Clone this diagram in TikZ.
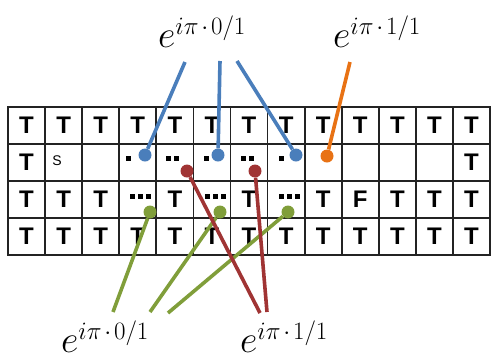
\RequirePackage{fix-cm}
\documentclass[tikz,border=0pt]{standalone}
\usepackage{fontspec}
\newfontfamily\cellfont{Liberation Sans}
\usetikzlibrary{positioning}
\definecolor{gridline}{RGB}{35,35,35}
\definecolor{phaseblue}{RGB}{74,126,187}
\definecolor{phaseorange}{RGB}{232,114,20}
\definecolor{phasered}{RGB}{160,52,52}
\definecolor{phasegreen}{RGB}{128,158,58}
\newcommand{\phaselbl}[1]{$e$\raisebox{13pt}{\fontsize{25}{27}\selectfont$i\pi\mkern2mu{\cdot}\mkern2mu#1/1$}}

\begin{document}
\begin{tikzpicture}[
  x=1pt, y=-1pt,
  cell/.style={draw=gridline, line width=1.8pt, minimum width=37.08pt, minimum height=37pt, inner sep=0pt, font=\cellfont\bfseries\fontsize{24}{24}\selectfont},
  tiny/.style={inner sep=0pt, font=\cellfont\fontsize{14}{14}\selectfont},
  visit/.style={fill=black, minimum size=5pt, inner sep=0pt},
  dot/.style={circle, minimum size=13pt, inner sep=0pt},
  phase/.style={anchor=base west, inner sep=0pt, font=\fontsize{38}{42}\selectfont},
  link/.style={line width=3.6pt}
]
\useasboundingbox (0,0) rectangle (491,360);

% the board
\foreach \row/\cells in {0/{T,T,T,T,T,T,T,T,T,T,T,T,T},
                         1/{T,,,,,,,,,,,,T},
                         2/{T,T,T,,T,,T,,T,F,T,T,T},
                         3/{T,T,T,T,T,T,T,T,T,T,T,T,T}}
  \foreach \txt [count=\col from 0] in \cells
    \node[cell] (c\row-\col) at ({8+37.08*(\col+0.5)}, {107+37*(\row+0.5)}) {\txt};
\node[tiny] (start) at (57,161) {S};

% visited marks
\foreach \mx/\my [count=\k] in {128/158, 168/158, 176/158, 206/158, 243/158, 251/158, 281/158,
                                132/196, 140/196, 148/196, 207/196, 215/196, 223/196, 281/196, 289/196, 297/196}
  \node[visit] (mk\k) at (\mx,\my) {};

% phase labels
\node[phase] (top0) at (158,47) {\phaselbl{0}};
\node[phase] (top1) at (333,47) {\phaselbl{1}};
\node[phase] (bot0) at (61,352) {\phaselbl{0}};
\node[phase] (bot1) at (240,352) {\phaselbl{1}};

% dots
\node[dot, fill=phaseblue] (b1) at (145,155) {};
\node[dot, fill=phaseblue] (b2) at (218,155) {};
\node[dot, fill=phaseblue] (b3) at (296,155) {};
\node[dot, fill=phaseorange] (o1) at (327,156) {};
\node[dot, fill=phasered] (r1) at (187,171) {};
\node[dot, fill=phasered] (r2) at (255,171) {};
\node[dot, fill=phasegreen] (g1) at (150,212) {};
\node[dot, fill=phasegreen] (g2) at (220,212) {};
\node[dot, fill=phasegreen] (g3) at (288,212) {};

% line ends next to the labels
\coordinate (tb1) at (185,62);
\coordinate (tb2) at (220,61);
\coordinate (tb3) at (237,61);
\coordinate (to1) at (350,62);
\coordinate (bg1) at (113,312);
\coordinate (bg2) at (150,312);
\coordinate (bg3) at (168,313);
\coordinate (br1) at (260,313);
\coordinate (br2) at (267,312);

\draw[link, phaseblue] (tb1) -- (b1);
\draw[link, phaseblue] (tb2) -- (b2);
\draw[link, phaseblue] (tb3) -- (b3);
\draw[link, phaseorange] (to1) -- (o1);
\draw[link, phasegreen] (bg1) -- (g1);
\draw[link, phasegreen] (bg2) -- (g2);
\draw[link, phasegreen] (bg3) -- (g3);
\draw[link, phasered] (br1) -- (r1);
\draw[link, phasered] (br2) -- (r2);
\end{tikzpicture}
\end{document}
